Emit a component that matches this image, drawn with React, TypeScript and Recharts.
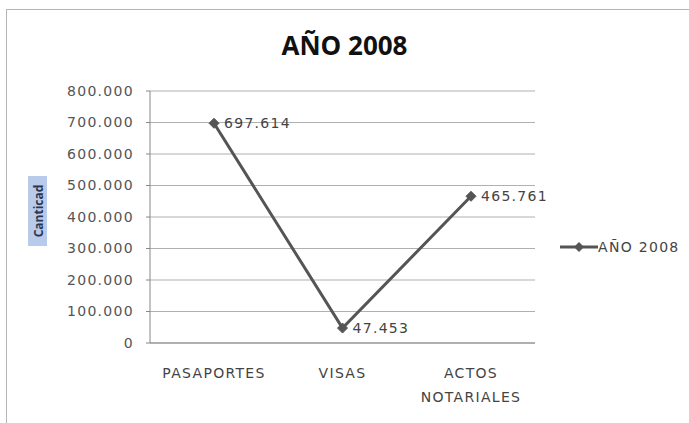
import React from 'react';
import { LineChart, Line, XAxis, YAxis, CartesianGrid, LabelList } from 'recharts';

const categories = ['PASAPORTES', 'VISAS', 'ACTOS NOTARIALES'];
const cantidad = [697614, 47453, 465761];
const yTicks = [0, 100000, 200000, 300000, 400000, 500000, 600000, 700000, 800000];
const seriesName = 'AÑO 2008';

const data = categories.map((name, i) => ({ name, value: cantidad[i] }));

const fmt = (v: number) => {
  if (v === 0) return '0';
  return String(Math.round(v)).replace(/\B(?=(\d{3})+(?!\d))/g, '.');
};

const FONT = 'DejaVu Sans, Verdana, sans-serif';
const TITLE_FONT = 'Open Sans, Liberation Sans, sans-serif';
const SPACING = 1.3;

const Diamond = (props: any) => {
  const { cx, cy } = props;
  if (cx == null || cy == null) return null;
  const r = 5;
  return (
    <path
      d={`M${cx},${cy - r} L${cx + r},${cy} L${cx},${cy + r} L${cx - r},${cy} Z`}
      fill="#555"
      stroke="#555"
    />
  );
};

const XTick = (props: any) => {
  const { x, y, payload } = props;
  const words = String(payload.value).split(' ');
  return (
    <text x={x} y={y} textAnchor="middle" fill="#444" fontSize={14} letterSpacing={SPACING} fontFamily={FONT}>
      {words.map((w: string, i: number) => (
        <tspan key={i} x={x} dy={i === 0 ? 27 : 24}>
          {w}
        </tspan>
      ))}
    </text>
  );
};

const YLabel = () => (
  <g>
    <rect x={28} y={176} width={19} height={70} fill="#b9cbea" />
    <text
      x={38}
      y={211}
      transform="rotate(-90 38 211)"
      textAnchor="middle"
      dominantBaseline="central"
      fill="#2a3550"
      fontSize={12}
      fontWeight="bold"
      fontFamily={TITLE_FONT}
    >
      Canticad
    </text>
  </g>
);

export default function App() {
  return (
    <div style={{ position: 'absolute', left: 0, top: 0, width: 689, height: 423, background: '#fff' }}>
      <div
        style={{
          position: 'absolute',
          left: 6,
          top: 9,
          width: 683,
          height: 414,
          borderTop: '1px solid #b5b5b5',
          borderLeft: '1px solid #b5b5b5',
        }}
      />
      <div
        style={{
          position: 'absolute',
          left: 0,
          top: 27,
          width: 689,
          textAlign: 'center',
          fontFamily: TITLE_FONT,
          fontWeight: 'bold',
          fontSize: 26,
          color: '#111',
        }}
      >
        {seriesName}
      </div>
      <div style={{ position: 'absolute', left: 0, top: 0 }}>
        <LineChart width={689} height={423} data={data} margin={{ top: 91, right: 154, bottom: 20, left: 60 }}>
          <CartesianGrid vertical={false} stroke="#b0b0b0" />
          <XAxis
            dataKey="name"
            tick={<XTick />}
            tickLine={false}
            axisLine={{ stroke: '#888' }}
            height={60}
            interval={0}
            padding={{ left: 64, right: 64 }}
          />
          <YAxis
            domain={[0, 800000]}
            ticks={yTicks}
            tickFormatter={fmt}
            width={90}
            tickLine={{ stroke: '#888' }}
            tickSize={4}
            tickMargin={12}
            axisLine={{ stroke: '#888' }}
            tick={{ fill: '#555', fontSize: 14, fontFamily: FONT, letterSpacing: SPACING }}
            label={<YLabel />}
          />
          <Line
            type="linear"
            dataKey="value"
            name={seriesName}
            stroke="#555"
            strokeWidth={3}
            dot={<Diamond />}
            activeDot={false}
            isAnimationActive={false}
          >
            <LabelList
              dataKey="value"
              position="right"
              offset={10}
              formatter={(v: any) => fmt(Number(v))}
              fill="#444"
              fontSize={14}
              letterSpacing={SPACING}
              fontFamily={FONT}
            />
          </Line>
        </LineChart>
      </div>
      <div
        style={{
          position: 'absolute',
          left: 560,
          top: 239,
          display: 'flex',
          alignItems: 'center',
          fontFamily: FONT,
          fontSize: 14,
          letterSpacing: SPACING,
          color: '#444',
        }}
      >
        <svg width={38} height={12}>
          <line x1={0} y1={6} x2={38} y2={6} stroke="#555" strokeWidth={3} />
          <path d="M19,1 L24,6 L19,11 L14,6 Z" fill="#555" />
        </svg>
        <span>{seriesName}</span>
      </div>
    </div>
  );
}
